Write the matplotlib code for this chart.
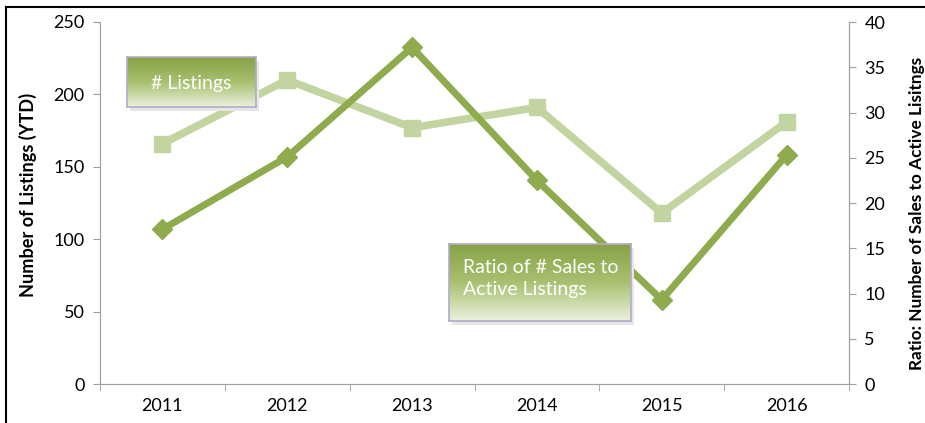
import numpy as np
import matplotlib
matplotlib.use("Agg")
import matplotlib.pyplot as plt
from matplotlib.patches import Rectangle
from matplotlib.colors import LinearSegmentedColormap

plt.rcParams['font.family'] = ['Lato', 'DejaVu Sans']

years = ['2011', '2012', '2013', '2014', '2015', '2016']
listings = [166, 210, 177, 191, 118, 181]
ratio = [17.1, 25.1, 37.2, 22.5, 9.3, 25.3]

light = '#c2d4a0'
dark = '#8eab4e'

fig = plt.figure(figsize=(9.25, 4.23), dpi=100)
ax = fig.add_axes([100/925, 1-384/423, 749/925, 362/423])
ax2 = ax.twinx()

x = np.arange(len(years))
ax.plot(x, listings, color=light, lw=5.5, marker='s', ms=12, zorder=3)
ax2.plot(x, ratio, color=dark, lw=5, marker='D', ms=10, zorder=3)

ax.set_xlim(-0.5, len(years)-0.5)
ax.set_ylim(0, 250)
ax2.set_ylim(0, 40)
ax.set_yticks(range(0, 251, 50))
ax2.set_yticks(range(0, 41, 5))
ax.set_xticks(x)
ax.set_xticklabels(years)
ax.set_xticks(np.arange(-0.5, len(years), 1), minor=True)
ax.tick_params(axis='x', which='major', length=0, pad=10, labelsize=13)
ax.tick_params(axis='x', which='minor', length=5, color='#a0a0a0', direction='out')
ax.tick_params(axis='y', length=5, color='#a0a0a0', labelsize=13, pad=6)
ax2.tick_params(axis='y', length=5, color='#a0a0a0', labelsize=13, pad=6)

for a in (ax, ax2):
    a.spines['top'].set_visible(False)
    for s in ('left', 'right', 'bottom'):
        a.spines[s].set_color('#a0a0a0')

yl1 = fig.text(28/925, 1-195/423, 'Number of Listings (YTD)', rotation=90,
               ha='center', va='center', fontweight='bold', fontsize=11)
yl2 = fig.text(917/925, 1-213/423, 'Ratio: Number of Sales to Active Lisitngs', rotation=90,
               ha='center', va='center', fontweight='bold', fontsize=11)

# fit label lengths to reference
fig.canvas.draw()
r = fig.canvas.get_renderer()
for t, target in ((yl1, 203), (yl2, 312)):
    h = t.get_window_extent(r).height
    t.set_fontsize(11 * target / h)

# figure border (left, top)
fig.add_artist(plt.Line2D([6/925, 6/925], [0, 1-7/423], transform=fig.transFigure, color='black', lw=1.5))
fig.add_artist(plt.Line2D([6/925, 1], [1-7/423, 1-7/423], transform=fig.transFigure, color='black', lw=1.5))

cmap = LinearSegmentedColormap.from_list('g', ['#86a244', '#a9c070', '#eaf1dc'])
grad = np.linspace(0, 1, 100).reshape(-1, 1)

def gbox(l, t, r_, b, text, fs, multi):
    fig.add_artist(Rectangle(((l+3)/925, 1-(b+4)/423), (r_-l)/925, (b-t)/423,
                             transform=fig.transFigure, facecolor='#e6e6e6', edgecolor='none', zorder=8))
    bax = fig.add_axes([l/925, 1-b/423, (r_-l)/925, (b-t)/423], zorder=10)
    bax.imshow(grad, aspect='auto', cmap=cmap, extent=[0, 1, 0, 1])
    bax.set_xticks([]); bax.set_yticks([])
    for s in bax.spines.values():
        s.set_color('#b4aac8'); s.set_linewidth(1.2)
    if multi:
        bax.text(0.075, 0.55, text, ha='left', va='center', color='white',
                 fontsize=fs, transform=bax.transAxes, linespacing=1.4)
    else:
        bax.text(0.5, 0.47, text, ha='center', va='center', color='white',
                 fontsize=fs, transform=bax.transAxes)

gbox(127, 57, 256, 107, '# Listings', 14, False)
gbox(449, 244, 631, 321, 'Ratio of # Sales to\nActive Listings', 14, True)

fig.savefig('out.png', dpi=100)
